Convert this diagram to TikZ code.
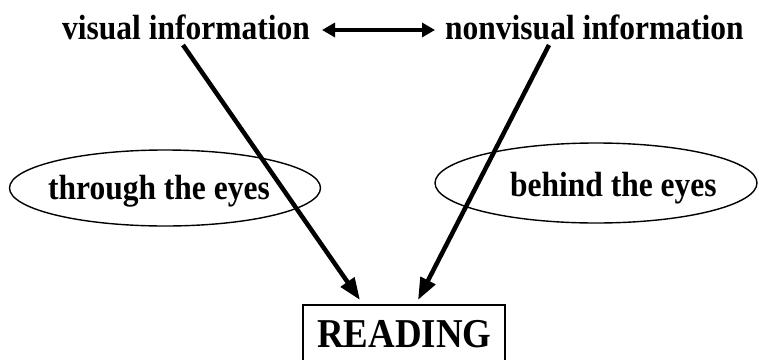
\documentclass[tikz,border=0pt]{standalone}
\usepackage{fontspec}
\setmainfont[FakeStretch=0.9]{Liberation Serif}
\usetikzlibrary{shapes.geometric,arrows.meta}
\begin{document}
\begin{tikzpicture}[x=1pt,y=-1pt,
  lbl/.style={font=\bfseries\fontsize{35}{40}\selectfont, inner sep=0pt},
  oval/.style={draw, ellipse, line width=1.4pt, inner sep=0pt},
  arr/.style={line width=4.5pt, -{Triangle[length=22pt,width=16pt]}},
  dbl/.style={line width=4.5pt, {Triangle[length=13pt,width=14pt]}-{Triangle[length=13pt,width=14pt]}}]
\useasboundingbox (0,0) rectangle (759,359);
\node[lbl, anchor=base west] (vis) at (62,39) {visual information};
\node[lbl, anchor=base west] (nonvis) at (445,39) {nonvisual information};
\coordinate (d1) at (322,30);
\coordinate (d2) at (435,30);
\draw[dbl] (d1) -- (d2);
\node[oval, minimum width=311pt, minimum height=76pt] (e1) at (165,188) {};
\node[lbl, anchor=base west] (t1) at (48,199) {through the eyes};
\node[oval, minimum width=322pt, minimum height=80pt] (e2) at (596,183) {};
\node[lbl, anchor=base west] (t2) at (510,196) {behind the eyes};
\coordinate (b1) at (303,372);
\coordinate (b2) at (505,305);
\draw[line width=1.3pt] (b1) |- (b2) -- (b2 |- b1);
\node[lbl, font=\bfseries\fontsize{41}{46}\selectfont, anchor=base west] (read) at (317,347) {READING};
\coordinate (a1s) at (183,45);
\coordinate (a1e) at (360,300);
\coordinate (a2s) at (549,45);
\coordinate (a2e) at (418,300);
\draw[arr] (a1s) -- (a1e);
\draw[arr] (a2s) -- (a2e);
\end{tikzpicture}
\end{document}
